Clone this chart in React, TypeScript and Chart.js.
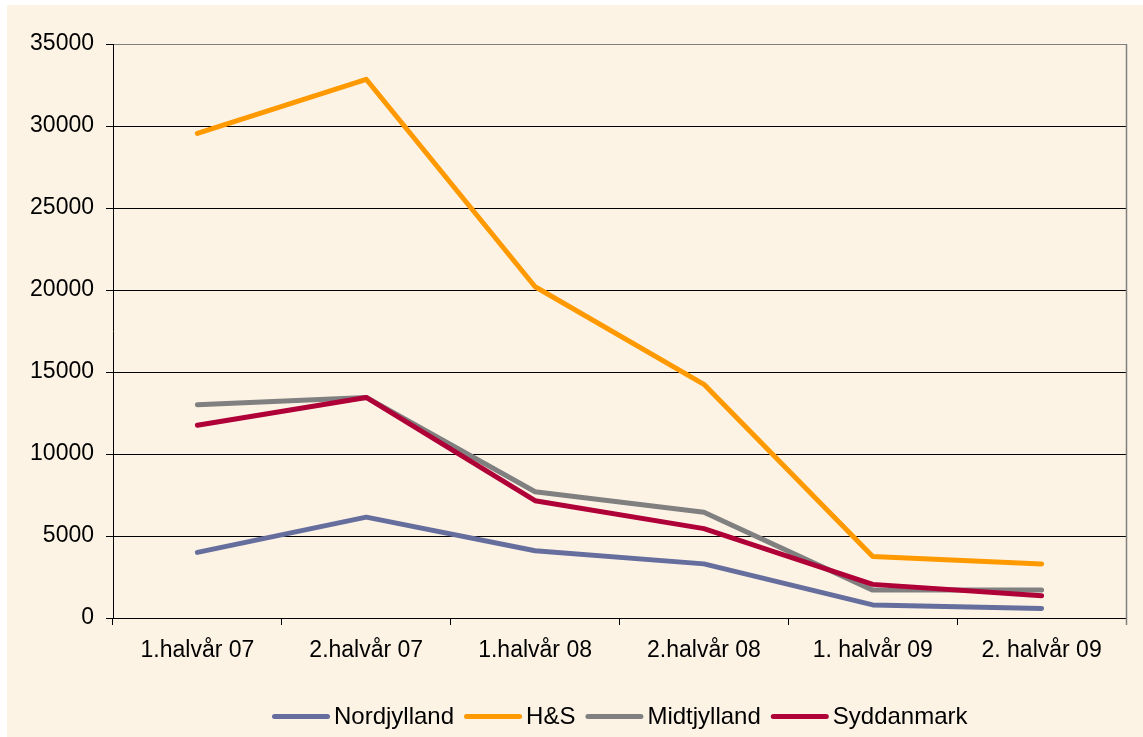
import React, { useEffect, useRef } from 'react';
import { Chart, registerables } from 'chart.js';
Chart.register(...registerables);

const categories = ['1.halvår 07', '2.halvår 07', '1.halvår 08', '2.halvår 08', '1. halvår 09', '2. halvår 09'];
const nordjylland = [4000, 6150, 4100, 3300, 800, 580];
const hs = [29550, 32850, 20200, 14250, 3750, 3300];
const midtjylland = [13000, 13450, 7700, 6450, 1700, 1700];
const syddanmark = [11750, 13450, 7150, 5450, 2050, 1350];
const seriesNames = ['Nordjylland', 'H&S', 'Midtjylland', 'Syddanmark'];
const seriesColors = ['#666E9E', '#FF9900', '#808080', '#AF0038'];
const yMin = 0;
const yMax = 35000;
const yStep = 5000;

const BG = '#FDF3E5';
const FONT = "'Liberation Sans', Arial, sans-serif";

const bgPlugin = {
  id: 'bgPlugin',
  beforeDraw(chart: any) {
    const ctx = chart.ctx;
    ctx.save();
    ctx.fillStyle = BG;
    ctx.fillRect(0, 0, chart.width, chart.height);
    ctx.restore();
  },
  beforeDatasetsDraw(chart: any) {
    const { ctx, chartArea } = chart;
    ctx.save();
    ctx.strokeStyle = '#808080';
    ctx.lineWidth = 1.5;
    ctx.beginPath();
    ctx.moveTo(Math.round(chartArea.right) + 0.5, chartArea.top);
    ctx.lineTo(Math.round(chartArea.right) + 0.5, chartArea.bottom + 7);
    ctx.stroke();
    ctx.restore();
  },
};

const legendPlugin = {
  id: 'customLegend',
  afterDraw(chart: any) {
    const ctx = chart.ctx;
    ctx.save();
    ctx.font = `24px ${FONT}`;
    ctx.textBaseline = 'middle';
    let x = 265;
    const y = 711.5;
    seriesNames.forEach((name, i) => {
      ctx.strokeStyle = seriesColors[i];
      ctx.lineWidth = 5;
      ctx.lineCap = 'round';
      ctx.beginPath();
      ctx.moveTo(x + 2.5, y);
      ctx.lineTo(x + 55.5, y);
      ctx.stroke();
      ctx.fillStyle = '#000';
      ctx.fillText(name, x + 62, y + 1);
      x = x + 62 + ctx.measureText(name).width + 10;
    });
    ctx.restore();
  },
};

export default function App() {
  const ref = useRef<HTMLCanvasElement>(null);
  useEffect(() => {
    if (!ref.current) return;
    const seriesData = [nordjylland, hs, midtjylland, syddanmark];
    const chart = new Chart(ref.current, {
      type: 'line',
      data: {
        labels: categories,
        datasets: seriesNames.map((name, i) => ({
          label: name,
          data: seriesData[i],
          borderColor: seriesColors[i],
          backgroundColor: seriesColors[i],
          borderWidth: 5,
          borderCapStyle: 'round',
          borderJoinStyle: 'round',
          pointRadius: 0,
          pointHoverRadius: 0,
          tension: 0,
          fill: false,
          order: 3 - i,
        })),
      },
      options: {
        responsive: false,
        animation: false,
        layout: { padding: { top: 39, right: 17, left: 0, bottom: 0 } },
        plugins: {
          legend: { display: false },
          tooltip: { enabled: false },
        },
        scales: {
          x: {
            type: 'category',
            offset: true,
            grid: {
              display: true,
              offset: true,
              drawOnChartArea: false,
              drawTicks: true,
              tickLength: 7,
              color: '#000',
              tickColor: '#000',
            },
            border: { display: true, color: '#000', width: 1 },
            ticks: {
              color: '#000',
              font: { family: FONT, size: 23 },
              padding: 12,
              maxRotation: 0,
              autoSkip: false,
            },
            afterFit: (s: any) => {
              s.height = 119;
            },
          },
          y: {
            min: yMin,
            max: yMax,
            grid: {
              color: (c: any) => (c.tick && c.tick.value === yMax ? '#808080' : '#000'),
              tickColor: '#000',
              tickLength: 7,
              lineWidth: 1,
            },
            border: { display: true, color: '#000', width: 1 },
            ticks: {
              stepSize: yStep,
              color: '#000',
              font: { family: FONT, size: 23 },
              padding: 12,
              callback: (v: any) => String(v),
            },
            afterFit: (s: any) => {
              s.width = 106;
            },
          },
        },
      },
      plugins: [bgPlugin, legendPlugin],
    } as any);
    return () => chart.destroy();
  }, []);
  return (
    <div style={{ position: 'fixed', left: 0, top: 0, width: 1143, height: 737, background: '#fff' }}>
      <div style={{ position: 'absolute', left: 7, top: 5, width: 1136, height: 732 }}>
        <canvas ref={ref} width={1136} height={732} style={{ display: 'block', width: 1136, height: 732 }} />
      </div>
    </div>
  );
}
